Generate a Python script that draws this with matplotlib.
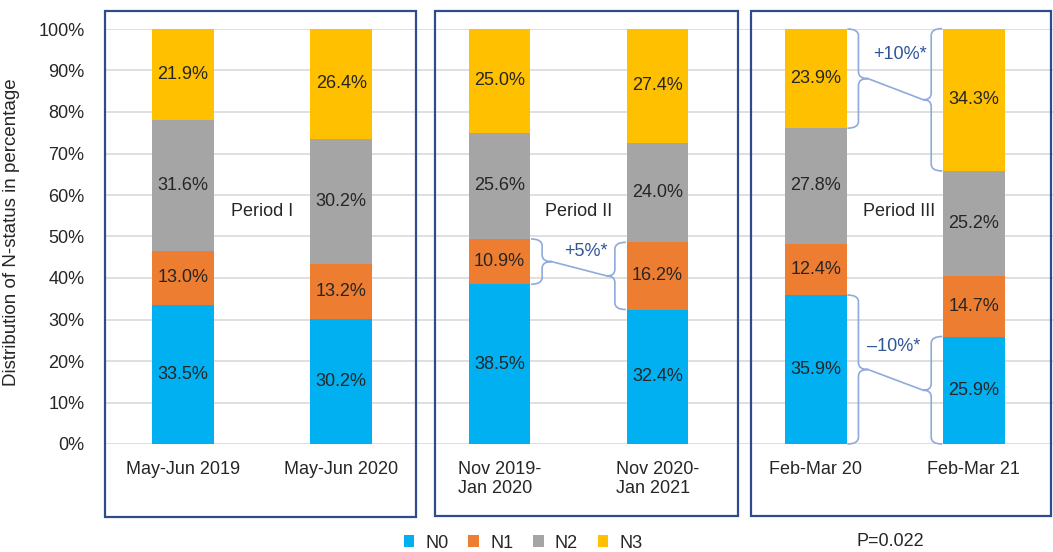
import numpy as np
import matplotlib.pyplot as plt
from matplotlib.patches import Rectangle, PathPatch
from matplotlib.path import Path

plt.rcParams['font.family'] = ['Liberation Sans', 'DejaVu Sans']

# Data
categories = ['May-Jun 2019', 'May-Jun 2020', 'Nov 2019-\nJan 2020',
              'Nov 2020-\nJan 2021', 'Feb-Mar 20', 'Feb-Mar 21']
series_names = ['N0', 'N1', 'N2', 'N3']
n0 = [33.5, 30.2, 38.5, 32.4, 35.9, 25.9]
n1 = [13.0, 13.2, 10.9, 16.2, 12.4, 14.7]
n2 = [31.6, 30.2, 25.6, 24.0, 27.8, 25.2]
n3 = [21.9, 26.4, 25.0, 27.4, 23.9, 34.3]
periods = ['Period I', 'Period II', 'Period III']
changes = ['+5%*', '+10%*', '\u201310%*']
p_text = 'P=0.022'

colors = ['#00B0F0', '#ED7D31', '#A5A5A5', '#FFC000']
text_col = '#262626'
box_col = '#2E4C8C'
brace_col = '#8FAADC'
note_col = '#2F5597'
fs = 13

fig = plt.figure(figsize=(10.53, 5.52), dpi=100)
ax = fig.add_axes([104 / 1053, 1 - 444 / 552, 949 / 1053, 415 / 552])

x = np.arange(len(categories))
width = 0.39
data = np.array([n0, n1, n2, n3])
bottoms = np.vstack([np.zeros(len(x)), np.cumsum(data, axis=0)[:-1]])

for i in range(len(series_names)):
    ax.bar(x, data[i], width, bottom=bottoms[i], color=colors[i],
           label=series_names[i], zorder=2)
    for j in range(len(x)):
        ax.text(x[j], bottoms[i][j] + data[i][j] / 2, f'{data[i][j]:.1f}%',
                ha='center', va='center', fontsize=fs, color=text_col, zorder=3)

ax.set_xlim(-0.5, 5.5)
ax.set_ylim(0, 100)
ax.set_yticks(np.arange(0, 101, 10))
ax.set_yticklabels([f'{v}%' for v in range(0, 101, 10)])
ax.set_xticks(x)
ax.set_xticklabels(categories, ha='center', multialignment='left')
ax.tick_params(length=0, labelsize=fs, colors='#262626')
ax.tick_params(axis='x', pad=12)
ax.tick_params(axis='y', pad=14)
ax.grid(axis='y', color='#D9D9D9', lw=1.2, zorder=0)
for s in ax.spines.values():
    s.set_visible(False)
ax.set_ylabel('Distribution of N-status in percentage', fontsize=13.5,
              color='#262626', labelpad=6)
ax.yaxis.set_label_coords(-0.088, 0.51)

# Period labels
for k, name in enumerate(periods):
    ax.text(2 * k + 0.5 + (0.03 if k == 2 else 0), 56, name, ha='center',
            va='center', fontsize=fs, color=text_col, zorder=3)


def brace(x0, y0, y1, d, tip):
    # vertical curly brace starting at x0, bulging by d, tip extends by tip
    ym = (y0 + y1) / 2
    r = min(1.6, (y1 - y0) / 6)
    verts = [(x0, y0), (x0 + d, y0), (x0 + d, y0 + r),
             (x0 + d, ym - r), (x0 + d, ym), (x0 + d + tip, ym),
             (x0 + d, ym), (x0 + d, ym + r),
             (x0 + d, y1 - r), (x0 + d, y1), (x0, y1)]
    codes = [Path.MOVETO, Path.CURVE3, Path.CURVE3,
             Path.LINETO, Path.CURVE3, Path.CURVE3,
             Path.CURVE3, Path.CURVE3,
             Path.LINETO, Path.CURVE3, Path.CURVE3]
    ax.add_patch(PathPatch(Path(verts, codes), fill=False, ec=brace_col,
                           lw=1.2, zorder=4, clip_on=False))
    return x0 + d + tip, ym


def compare(i, j, y0a, y1a, y0b, y1b, label, lx, ly):
    xa, ya = brace(x[i] + width / 2 + 0.005, y0a, y1a, 0.07, 0.06)
    xb, yb = brace(x[j] - width / 2 - 0.005, y0b, y1b, -0.07, -0.05)
    ax.plot([xa, xb], [ya, yb], color=brace_col, lw=1.2, zorder=4)
    ax.text(lx, ly, label, ha='center', va='center', fontsize=fs,
            color=note_col, zorder=4)


cum = np.cumsum(data, axis=0)
compare(2, 3, cum[0][2], cum[1][2], cum[0][3], cum[1][3], changes[0], 2.55, 46.3)
compare(4, 5, cum[2][4], cum[3][4], cum[2][5], cum[3][5], changes[1], 4.53, 93.9)
compare(4, 5, 0, cum[0][4], 0, cum[0][5], changes[2], 4.49, 23.6)

# Period boxes
for (l, t, r, b) in [(105, 11, 416, 517), (435, 11, 738, 516), (751, 11, 1051, 516)]:
    fig.add_artist(Rectangle((l / 1053, 1 - b / 552), (r - l) / 1053, (b - t) / 552,
                             transform=fig.transFigure, fill=False,
                             ec=box_col, lw=1.6))

# Legend
fig.legend(loc='center', bbox_to_anchor=(523 / 1053, 1 - 543 / 552), ncol=4,
           frameon=False, fontsize=fs, handlelength=0.6, handleheight=0.6,
           handletextpad=0.6, columnspacing=1.1, labelcolor=text_col)

fig.text(890 / 1053, 1 - 541 / 552, p_text, ha='center', va='center',
         fontsize=fs, color=text_col)

fig.savefig('out.png', dpi=100)
